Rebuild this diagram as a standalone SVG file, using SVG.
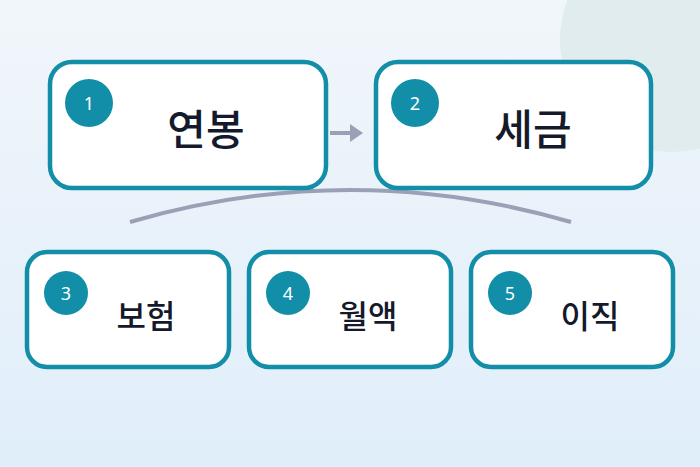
<svg xmlns="http://www.w3.org/2000/svg" width="700" height="467" viewBox="0 0 700 467">
<defs>
<linearGradient id="bg" x1="0" y1="0" x2="0" y2="1"><stop offset="0" stop-color="#f1f6fa"/><stop offset="1" stop-color="#e0eefa"/></linearGradient>
<style>
.box{fill:#fff;stroke:#138ea8;stroke-width:4.5}
.badge{fill:#138ea8}
.num{fill:#fff;font-family:"Noto Sans",sans-serif;font-size:18px;text-anchor:middle}
.big{fill:#141a2b;font-family:"Noto Sans CJK KR",sans-serif;font-size:42px;font-weight:500;text-anchor:middle}
.small{fill:#141a2b;font-family:"Noto Sans CJK KR",sans-serif;font-size:32px;font-weight:500;text-anchor:middle}
.con{fill:none;stroke:#9aa1b6;stroke-width:4}
</style>
</defs>
<rect width="700" height="467" fill="url(#bg)"/>
<circle cx="672" cy="40" r="112" fill="#e0ecee"/>
<g id="connectors">
<path class="con" d="M130 222 Q350 158 571 222"/>
<line class="con" x1="330" y1="133" x2="352" y2="133" stroke-width="5"/>
<polygon points="350,124 363,133 350,142" fill="#9aa1b6"/>
</g>
<g id="n1"><rect class="box" x="50" y="62" width="276" height="126" rx="22"/><circle class="badge" cx="89" cy="103" r="24"/><text class="num" x="89" y="110">1</text><text class="big" x="206" y="145">연봉</text></g>
<g id="n2"><rect class="box" x="376" y="62" width="275" height="126" rx="22"/><circle class="badge" cx="415" cy="103" r="24"/><text class="num" x="415" y="110">2</text><text class="big" x="533" y="145">세금</text></g>
<g id="n3"><rect class="box" x="27" y="252" width="202" height="115" rx="20"/><circle class="badge" cx="66" cy="293" r="22"/><text class="num" x="66" y="300">3</text><text class="small" x="146" y="328">보험</text></g>
<g id="n4"><rect class="box" x="249" y="252" width="202" height="115" rx="20"/><circle class="badge" cx="288" cy="293" r="22"/><text class="num" x="288" y="300">4</text><text class="small" x="368" y="328">월액</text></g>
<g id="n5"><rect class="box" x="471" y="252" width="202" height="115" rx="20"/><circle class="badge" cx="510" cy="293" r="22"/><text class="num" x="510" y="300">5</text><text class="small" x="590" y="328">이직</text></g>
</svg>
